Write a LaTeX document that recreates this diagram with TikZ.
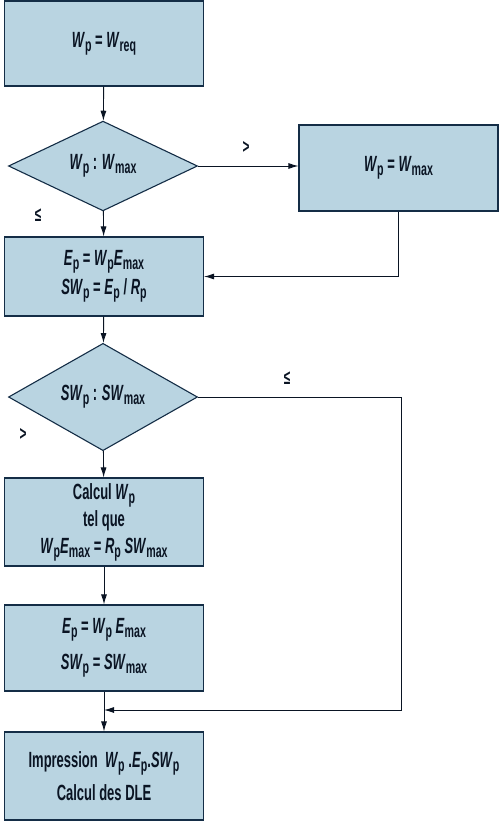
\documentclass[tikz,border=0pt]{standalone}
\usepackage{fontspec}
\setmainfont[FakeStretch=0.59]{Liberation Sans}
\usetikzlibrary{shapes.geometric, arrows.meta}

% lowered index in the flowchart texts
\newcommand{\ix}[1]{\raisebox{-0.35ex}{\fontsize{18}{18}\selectfont #1}}

\tikzset{
  procbox/.style={draw=boxedge, fill=boxfill, line width=1.1pt, rectangle,
    minimum width=199pt, minimum height=86pt, align=center, inner sep=2pt,
    text=textcol, font=\fontsize{22}{27}\selectfont\bfseries},
  testbox/.style={draw=boxedge, fill=boxfill, line width=1.1pt, diamond,
    minimum width=189pt, minimum height=88pt, inner sep=0pt,
    text=textcol, font=\fontsize{22}{27}\selectfont\bfseries},
  flow/.style={line width=0.9pt, draw=textcol, -{Latex[length=10pt,width=6pt]}},
  cond/.style={text=textcol, font=\fontsize{20}{20}\selectfont\bfseries}
}

\begin{document}
\begin{tikzpicture}[x=1pt, y=-1pt]

% Define colors
\definecolor{boxfill}{RGB}{185, 212, 225}
\definecolor{boxedge}{RGB}{20, 45, 70}
\definecolor{textcol}{RGB}{10, 20, 35}

\useasboundingbox (0,0) rectangle (500,821);

% Draw the boxes
\node[procbox, minimum height=85pt] (req) at (104, 43.5) {\textit{W}\ix{p} = \textit{W}\ix{req}};
\node[testbox] (testw) at (103, 166) {\textit{W}\ix{p} : \textit{W}\ix{max}};
\node[procbox] (wmax) at (398.5, 168) {\textit{W}\ix{p} = \textit{W}\ix{max}};
\node[procbox, minimum height=79pt] (ener) at (104, 276.5)
  {\textit{E}\ix{p} = \textit{W}\ix{p}\textit{E}\ix{max}\\[2pt] \textit{SW}\ix{p} = \textit{E}\ix{p}\,/\,\textit{R}\ix{p}};
\node[testbox] (testsw) at (103, 397) {\textit{SW}\ix{p} : \textit{SW}\ix{max}};
\node[procbox, minimum height=88pt] (calc) at (104, 522)
  {Calcul \textit{W}\ix{p}\\ tel que\\ \textit{W}\ix{p}\textit{E}\ix{max} = \textit{R}\ix{p}\,\textit{SW}\ix{max}};
\node[procbox] (swmax) at (104, 648)
  {\textit{E}\ix{p} = \textit{W}\ix{p}\,\textit{E}\ix{max}\\[9pt] \textit{SW}\ix{p} = \textit{SW}\ix{max}};
\node[procbox, minimum height=88pt] (print) at (104, 776)
  {Impression~~\textit{W}\ix{p}\,.\textit{E}\ix{p}.\textit{SW}\ix{p}\\[6pt] Calcul des DLE};

% Corner points of the bypass
\coordinate (bypass) at (401, 397);
\coordinate (merge) at (104, 710);

% Draw the connectors
\draw[flow] (req) -- (testw);
\draw[flow] (testw) -- (ener);
\draw[flow] (testw.east) -- (wmax.west |- testw.east);
\draw[flow] (wmax.south) |- (ener.east);
\draw[flow] (ener) -- (testsw);
\draw[flow] (testsw) -- (calc);
\draw[flow] (calc) -- (swmax);
\draw[flow] (swmax) -- (print);
\draw[flow] (testsw.east) -- (bypass) |- (merge);

% Add labels
\node[cond] (gtw) at (246, 147) {>};
\node[cond] (lew) at (38, 215) {≤};
\node[cond] (lesw) at (287, 378) {≤};
\node[cond] (gtsw) at (23, 434) {>};

\end{tikzpicture}
\end{document}
